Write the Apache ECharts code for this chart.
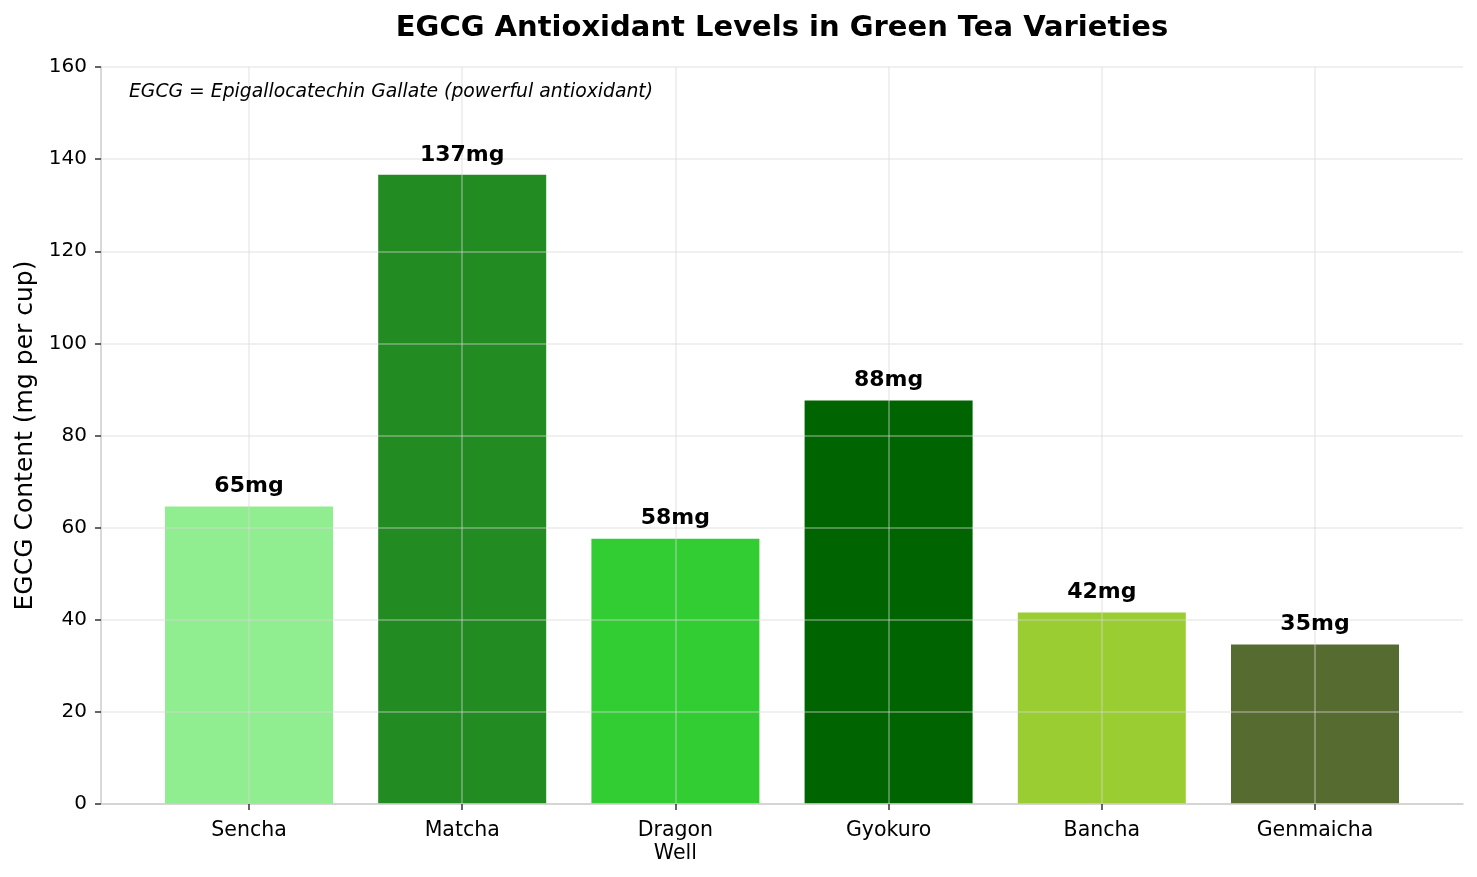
<!DOCTYPE html>
<html>
<head>
    <meta charset="utf-8">
    <title>EGCG Antioxidant Levels</title>
    <script src="https://cdn.jsdelivr.net/npm/echarts@6/dist/echarts.min.js"></script>
    <style>
        body { margin: 0; background: #ffffff; }
        #main { width: 1477px; height: 877px; }
    </style>
</head>
<body>
    <div id="main"></div>
    <script type="text/javascript">
        // data
        var teas = ['Sencha', 'Matcha', 'Dragon\nWell', 'Gyokuro', 'Bancha', 'Genmaicha'];
        var egcg = [64.6, 136.6, 57.6, 87.6, 41.6, 34.6];
        var barLabels = ['65mg', '137mg', '58mg', '88mg', '42mg', '35mg'];
        var barColors = ['#90EE90', '#228B22', '#32CD32', '#006400', '#9ACD32', '#556B2F'];
        var yTicks = [0, 20, 40, 60, 80, 100, 120, 140, 160];

        var font = 'DejaVu Sans';
        var myChart = echarts.init(document.getElementById('main'));

        var barData = egcg.map(function (v, i) {
            return { value: [i, v], itemStyle: { color: barColors[i] } };
        });

        var gridLine = { show: true, lineStyle: { color: 'rgba(215,215,215,0.5)', width: 1.5 } };

        var option = {
            backgroundColor: '#ffffff',
            animation: false,
            textStyle: { fontFamily: font },
            grid: [
                // outer frame: y axis, horizontal grid, bottom spine
                { left: 101, right: 14, top: 67, bottom: 73, outerBoundsMode: 'none', containLabel: false },
                // bars, centred on the category ticks
                { left: 249, right: 162, top: 67, bottom: 73, outerBoundsMode: 'none', containLabel: false }
            ],
            xAxis: [
                {
                    gridIndex: 0, type: 'value', min: 0, max: 1, z: 5,
                    axisLine: { show: true, lineStyle: { color: '#cccccc', width: 1.5 } },
                    axisTick: { show: false }, axisLabel: { show: false }, splitLine: { show: false }
                },
                {
                    gridIndex: 1, type: 'value', min: 0, max: teas.length - 1, interval: 1, z: 5,
                    axisLine: { show: false },
                    axisTick: { show: true, length: 6, lineStyle: { color: '#333333', width: 1.5 } },
                    axisLabel: {
                        margin: 15, fontFamily: font, fontSize: 20.5, color: '#000', lineHeight: 23,
                        formatter: function (v) { return teas[v] || ''; }
                    },
                    splitLine: gridLine
                }
            ],
            yAxis: [
                {
                    gridIndex: 0, type: 'value', min: yTicks[0], max: yTicks[yTicks.length - 1], interval: 20, z: 5,
                    name: 'EGCG Content (mg per cup)', nameLocation: 'middle', nameGap: 61,
                    nameTextStyle: { fontFamily: font, fontSize: 25, color: '#000' },
                    axisLine: { show: true, lineStyle: { color: '#cccccc', width: 1.5 } },
                    axisTick: { show: true, length: 6, lineStyle: { color: '#333333', width: 1.5 } },
                    axisLabel: { margin: 14, fontFamily: font, fontSize: 20, color: '#000' },
                    splitLine: gridLine
                },
                {
                    gridIndex: 1, type: 'value', min: 0, max: 160, show: false
                }
            ],
            graphic: [
                {
                    type: 'text', x: 782, y: 28, z: 10,
                    style: {
                        text: 'EGCG Antioxidant Levels in Green Tea Varieties',
                        fontFamily: font, fontSize: 29, fontWeight: 'bold', fill: '#000',
                        textAlign: 'center', textVerticalAlign: 'middle'
                    }
                },
                {
                    type: 'text', x: 129, y: 92, z: 10,
                    style: {
                        text: 'EGCG = Epigallocatechin Gallate (powerful antioxidant)',
                        fontFamily: font, fontSize: 18.8, fontStyle: 'italic', fill: '#000',
                        textAlign: 'left', textVerticalAlign: 'middle'
                    }
                }
            ],
            series: [
                {
                    type: 'bar', xAxisIndex: 1, yAxisIndex: 1,
                    barWidth: 168, clip: false, z: 2,
                    data: barData
                },
                {
                    // transparent copy carrying the value labels above the grid lines
                    type: 'bar', xAxisIndex: 1, yAxisIndex: 1,
                    barWidth: 168, barGap: '-100%', clip: false, z: 10, silent: true,
                    itemStyle: { color: 'rgba(0,0,0,0)' },
                    label: {
                        show: true, position: 'top', distance: 9,
                        fontFamily: font, fontSize: 22, fontWeight: 'bold', color: '#000',
                        formatter: function (p) { return barLabels[p.dataIndex]; }
                    },
                    data: egcg.map(function (v, i) { return [i, v]; })
                }
            ]
        };

        myChart.setOption(option);
    </script>
</body>
</html>
